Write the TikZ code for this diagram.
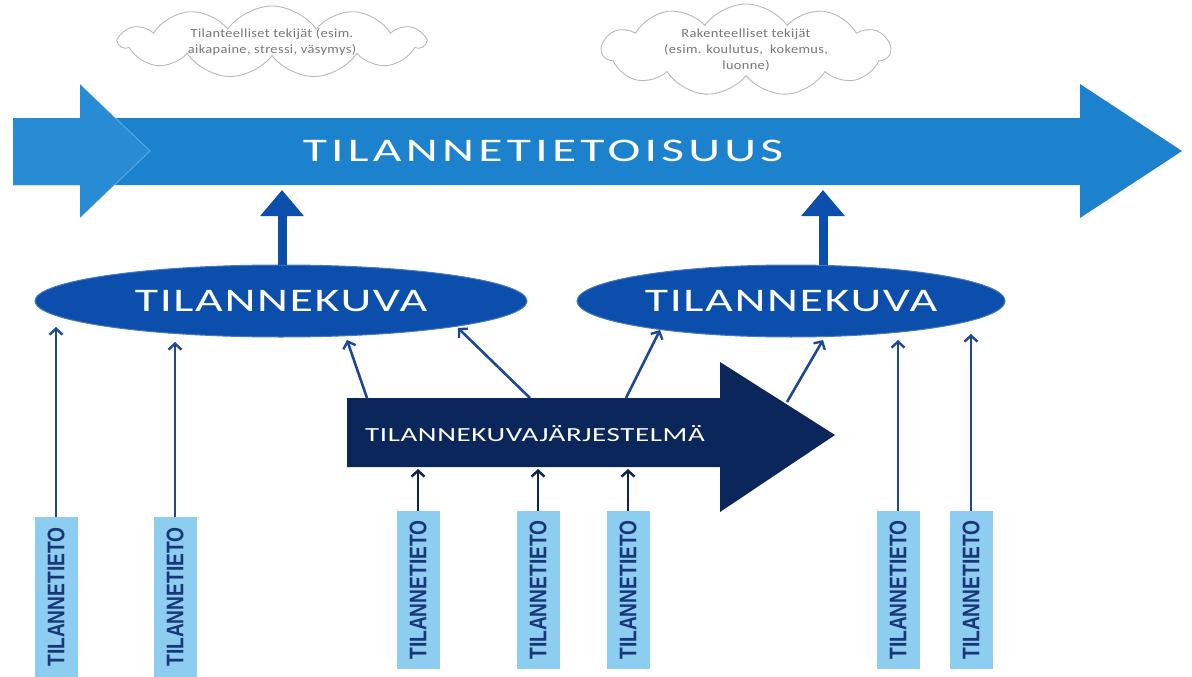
\documentclass[tikz,border=0pt]{standalone}
\usepackage{fontspec}
\setmainfont{Carlito}
\newfontfamily\narrowfont[FakeStretch=0.8]{Liberation Sans}
\newfontfamily\bigfont[FakeStretch=1.5,LetterSpace=13]{Carlito}
\newfontfamily\midfont[FakeStretch=1.45,LetterSpace=5]{Carlito}
\newfontfamily\navyfont[FakeStretch=1.45,LetterSpace=3]{Carlito}
\newfontfamily\cloudfont[FakeStretch=1.15,LetterSpace=3]{Carlito}
\usetikzlibrary{shapes.geometric,shapes.symbols,arrows.meta}
\definecolor{bigblue}{RGB}{28,130,205}
\definecolor{chevblue}{RGB}{40,140,212}
\definecolor{ellblue}{RGB}{12,78,172}
\definecolor{navyc}{RGB}{10,38,90}
\definecolor{boxblue}{RGB}{140,205,240}
\definecolor{boxtext}{RGB}{25,55,120}
\definecolor{linkblue}{RGB}{30,72,150}
\definecolor{linknavy}{RGB}{15,35,80}
\definecolor{cloudtext}{RGB}{120,120,120}
\tikzset{
  tbox/.style={rectangle, fill=boxblue, minimum width=43pt, minimum height=158pt, inner sep=0pt,
    text=boxtext, font=\narrowfont\bfseries\fontsize{24}{24}\selectfont},
  ellnode/.style={ellipse, fill=ellblue, draw=ellblue!75!white, line width=1pt, minimum height=72pt, inner sep=0pt,
    text=white, font=\midfont\fontsize{33}{33}\selectfont},
  thinlink/.style={draw=linkblue, line width=2.6pt, -{Straight Barb[length=6pt,width=13pt,line width=2.4pt]}},
  navylink/.style={draw=linknavy, line width=2.6pt, -{Straight Barb[length=6pt,width=13pt,line width=2.4pt]}},
  thicklink/.style={draw=ellblue, line width=9pt, -{Triangle[length=26pt,width=42pt]}},
  cloudnode/.style={cloud, cloud puffs=11, cloud puff arc=110, cloud ignores aspect, draw=gray!55, line width=0.9pt,
    fill=white, inner sep=0pt, text=cloudtext, align=center, font=\cloudfont\fontsize{12.5}{16}\selectfont}
}
\begin{document}
\begin{tikzpicture}[x=1pt,y=-1pt]
\useasboundingbox (0,0) rectangle (1192,677);
\fill[white] (0,0) rectangle (1192,677);

% clouds
\node[cloudnode, minimum width=305pt, minimum height=72pt] (c1) at (272,42)
  {Tilanteelliset tekijät (esim.\\ aikapaine, stressi, väsymys)};
\node[cloudnode, minimum width=288pt, minimum height=92pt] (c2) at (746,50)
  {Rakenteelliset tekijät\\ (esim. koulutus,\ \ kokemus,\\ luonne)};

% big arrow
\fill[bigblue] (13,118) -- (1080,118) -- (1080,84) -- (1182,151) -- (1080,218) -- (1080,185) -- (13,185) -- cycle;
\fill[chevblue] (13,118) -- (80,118) -- (80,84) -- (150,151) -- (80,218) -- (80,185) -- (13,185) -- cycle;
\draw[white, opacity=0.3, line width=0.8pt] (80,84) -- (150,151) -- (80,218);
\node[text=white, font=\bigfont\fontsize{33}{33}\selectfont, inner sep=0pt] (tsa) at (543,151) {TILANNETIETOISUUS};
\coordinate (sb1) at (282,190);
\coordinate (sb2) at (823,190);

% ellipses
\node[ellnode, minimum width=492pt] (e1) at (281,301) {TILANNEKUVA};
\node[ellnode, minimum width=428pt] (e2) at (791,301) {TILANNEKUVA};

\draw[thicklink] (sb1 |- e1.north) -- (sb1);
\draw[thicklink] (sb2 |- e2.north) -- (sb2);

% navy arrow
\fill[navyc] (347,398) -- (720,398) -- (720,362) -- (835,435) -- (720,512) -- (720,467) -- (347,467) -- cycle;
\node[text=white, font=\navyfont\fontsize{20}{20}\selectfont, inner sep=0pt] (sys) at (535,434) {TILANNEKUVAJÄRJESTELMÄ};
\coordinate (s1) at (367,398);
\coordinate (s2) at (530,398);
\coordinate (s3) at (626,398);
\coordinate (s4) at (787,402);
\coordinate (sbot3) at (418,469);
\coordinate (sbot4) at (538,469);
\coordinate (sbot5) at (628,469);

% tips on ellipses
\coordinate (t1) at (56,327);
\coordinate (t2) at (175,342);
\coordinate (tl1) at (347,340);
\coordinate (tl2) at (458,328);
\coordinate (tr1) at (660,330);
\coordinate (tr2) at (823,340);
\coordinate (t6) at (898,340);
\coordinate (t7) at (971,334);

% boxes
\node[tbox, minimum height=160pt] (b1) at (56,597) {\rotatebox{90}{TILANNETIETO}};
\node[tbox, minimum height=160pt] (b2) at (175,597) {\rotatebox{90}{TILANNETIETO}};
\node[tbox] (b3) at (418,590) {\rotatebox{90}{TILANNETIETO}};
\node[tbox] (b4) at (538,590) {\rotatebox{90}{TILANNETIETO}};
\node[tbox] (b5) at (628,590) {\rotatebox{90}{TILANNETIETO}};
\node[tbox] (b6) at (898,590) {\rotatebox{90}{TILANNETIETO}};
\node[tbox] (b7) at (971,590) {\rotatebox{90}{TILANNETIETO}};

% connectors
\draw[thinlink] (b1.north) -- (t1);
\draw[thinlink] (b2.north) -- (t2);
\draw[thinlink] (b6.north) -- (t6);
\draw[thinlink] (b7.north) -- (t7);
\draw[thinlink] (s1) -- (tl1);
\draw[thinlink] (s2) -- (tl2);
\draw[thinlink] (s3) -- (tr1);
\draw[thinlink] (s4) -- (tr2);
\draw[navylink] (b3.north) -- (sbot3);
\draw[navylink] (b4.north) -- (sbot4);
\draw[navylink] (b5.north) -- (sbot5);
\end{tikzpicture}
\end{document}
